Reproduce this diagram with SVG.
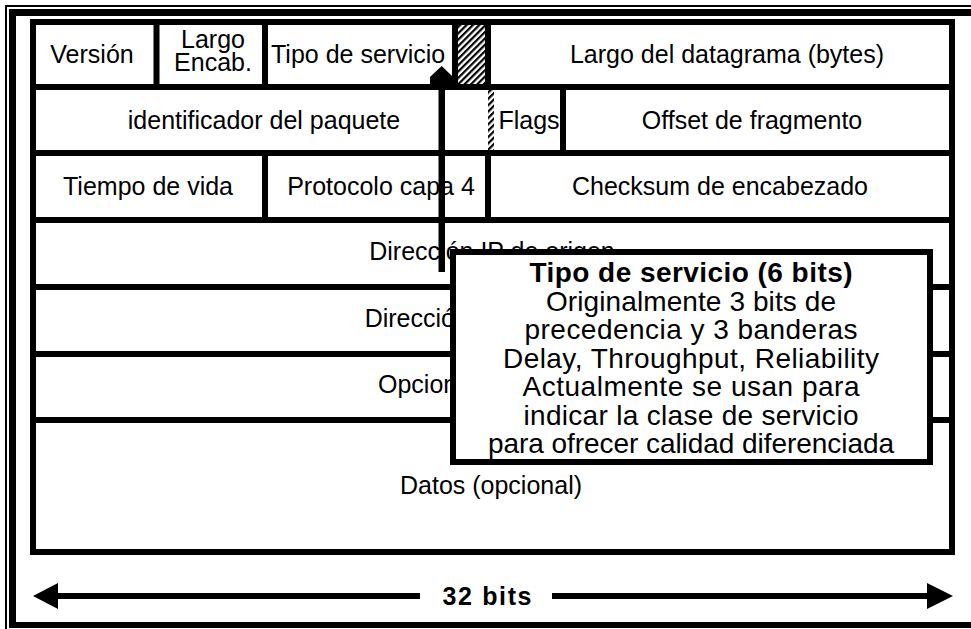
<svg xmlns="http://www.w3.org/2000/svg" width="971" height="629" viewBox="0 0 971 629">
<style>
.t{font-family:"Liberation Sans",Arial,Helvetica,sans-serif;font-size:25px;fill:#000;}
.m{text-anchor:middle;}
.co{font-size:28px;}
.b{font-weight:bold;}
.ln{fill:#000;}
</style>
<defs>
<pattern id="hatch" width="4.5" height="4.5" patternUnits="userSpaceOnUse" patternTransform="rotate(45)">
<rect width="4.5" height="4.5" fill="#fff"/>
<rect width="2.2" height="4.5" fill="#000"/>
</pattern>
</defs>
<rect width="971" height="629" fill="#fff"/>
<g id="frame">
<rect class="ln" x="5" y="5" width="2" height="624"/>
<rect class="ln" x="5" y="5" width="966" height="2"/>
<rect class="ln" x="9" y="9" width="7" height="619"/>
<rect class="ln" x="9" y="9" width="962" height="7"/>
<rect class="ln" x="9" y="622" width="962" height="6"/>
</g>
<g id="table">
<rect x="33" y="22" width="919" height="530" fill="#fff" stroke="#000" stroke-width="6"/>
<g id="grid" class="ln">
<rect x="30" y="84" width="925" height="6"/>
<rect x="30" y="150" width="925" height="6"/>
<rect x="30" y="217" width="925" height="6"/>
<rect x="30" y="284" width="925" height="6"/>
<rect x="30" y="351" width="925" height="6"/>
<rect x="30" y="417" width="925" height="6"/>
<rect x="153.5" y="22" width="6" height="65"/>
<rect x="262" y="22" width="6" height="65"/>
<rect x="452" y="22" width="6" height="65"/>
<rect x="485" y="22" width="6" height="65"/>
<rect x="560" y="87" width="6" height="66"/>
<rect x="262" y="153" width="6" height="67"/>
<rect x="485" y="153" width="6" height="67"/>
</g>
<g id="cell-version"><text class="t m" x="92" y="63">Versión</text></g>
<g id="cell-largo-encab"><text class="t m" x="213" y="48">Largo</text><text class="t m" x="213" y="71">Encab.</text></g>
<g id="cell-tipo-servicio"><text class="t" x="271" y="63">Tipo de servicio</text></g>
<g id="cell-reservado"><rect x="458" y="25" width="27" height="59" fill="url(#hatch)"/></g>
<g id="cell-largo-datagrama"><text class="t m" x="727" y="63">Largo del datagrama (bytes)</text></g>
<g id="cell-identificador"><text class="t m" x="264" y="129">identificador del paquete</text></g>
<g id="cell-bit-reservado"><rect x="488" y="90" width="6" height="60" fill="url(#hatch)"/></g>
<g id="cell-flags"><text class="t m" x="529" y="129">Flags</text></g>
<g id="cell-offset"><text class="t m" x="752" y="129">Offset de fragmento</text></g>
<g id="cell-tiempo"><text class="t m" x="148" y="195">Tiempo de vida</text></g>
<g id="cell-protocolo"><text class="t m" x="381" y="195">Protocolo capa 4</text></g>
<g id="cell-checksum"><text class="t m" x="720" y="195">Checksum de encabezado</text></g>
<g id="cell-ip-origen"><text class="t m" x="492" y="260">Dirección IP de origen</text></g>
<g id="cell-ip-destino"><text class="t m" x="493" y="327">Dirección IP de destino</text></g>
<g id="cell-opciones"><text class="t" x="378" y="393">Opciones</text></g>
<g id="cell-datos"><text class="t m" x="491" y="494">Datos (opcional)</text></g>
</g>
<g id="connectors">
<g id="arrow-tos" class="ln">
<rect x="438.5" y="80" width="6.5" height="192"/>
<polygon points="441.7,66 453,77 453,86 430,86 430,77"/>
</g>
<g id="arrow-32bits" class="ln">
<polygon points="33,596 58,583 58,609"/>
<rect x="56" y="593" width="364" height="6"/>
<rect x="552" y="593" width="377" height="6"/>
<polygon points="953,596 927,583 927,609"/>
</g>
</g>
<g id="label-32bits"><text class="t m b" x="487" y="605" font-size="26" textLength="89">32 bits</text></g>
<g id="callout">
<rect x="453" y="252" width="477" height="210" fill="#fff" stroke="#000" stroke-width="6"/>
<text class="t co m b" x="691" y="282" textLength="323">Tipo de servicio (6 bits)</text>
<text class="t co m" x="691" y="310.5" textLength="290">Originalmente 3 bits de</text>
<text class="t co m" x="691" y="339" textLength="333">precedencia y 3 banderas</text>
<text class="t co m" x="691" y="367.5" textLength="376">Delay, Throughput, Reliability</text>
<text class="t co m" x="691" y="396" textLength="337">Actualmente se usan para</text>
<text class="t co m" x="691" y="424.5" textLength="335">indicar la clase de servicio</text>
<text class="t co m" x="691" y="453" textLength="406">para ofrecer calidad diferenciada</text>
</g>
</svg>
